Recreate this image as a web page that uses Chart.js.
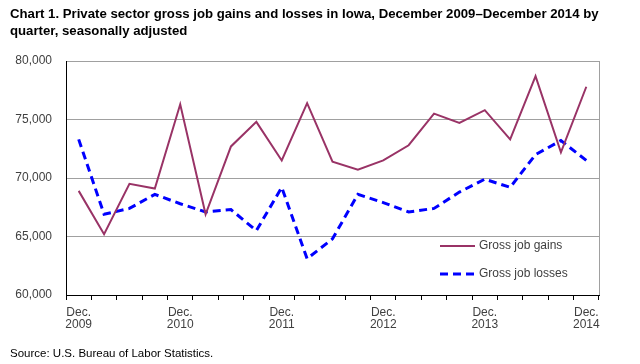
<!DOCTYPE html>
<html>
<head>
<meta charset="utf-8">
<script src="https://cdn.jsdelivr.net/npm/chart.js@4/dist/chart.umd.min.js"></script>
<style>
  body { margin: 0; background: #fff; }
  #wrap { position: relative; width: 640px; height: 364px; }
  #title { position: absolute; left: 10px; top: 5px; width: 620px; font-family: 'Liberation Sans Narrow', 'Arial Narrow', 'Liberation Sans', Arial, sans-serif; font-weight: bold; font-size: 13.2px; line-height: 17px; color: #000; }
  #source { position: absolute; left: 10px; top: 347px; font-family: 'Liberation Sans Narrow', 'Arial Narrow', 'Liberation Sans', Arial, sans-serif; font-size: 11.5px; color: #000; }
  .leg { position: absolute; left: 440px; font-family: 'Liberation Sans', Arial, sans-serif; font-size: 12px; color: #404040; white-space: nowrap; }
  .leg svg { vertical-align: middle; margin-right: 4px; }
</style>
</head>
<body>
<div id="wrap">
  <canvas id="myChart" width="640" height="364"></canvas>
  <div id="title">Chart 1. Private sector gross job gains and losses in Iowa, December 2009–December 2014 by quarter, seasonally adjusted</div>
  <div class="leg" style="top:238px"><svg width="35" height="4"><line x1="0" y1="2" x2="35" y2="2" stroke="#993366" stroke-width="2"/></svg>Gross job gains</div>
  <div class="leg" style="top:266px"><svg width="35" height="4"><line x1="0" y1="2" x2="35" y2="2" stroke="#0000ff" stroke-width="3" stroke-dasharray="8,5"/></svg>Gross job losses</div>
  <div id="source">Source: U.S. Bureau of Labor Statistics.</div>
</div>
<script>
// quarters Dec 2009 .. Dec 2014
var quarters = ['Dec 2009', 'Mar 2010', 'Jun 2010', 'Sep 2010', 'Dec 2010',
                'Mar 2011', 'Jun 2011', 'Sep 2011', 'Dec 2011',
                'Mar 2012', 'Jun 2012', 'Sep 2012', 'Dec 2012',
                'Mar 2013', 'Jun 2013', 'Sep 2013', 'Dec 2013',
                'Mar 2014', 'Jun 2014', 'Sep 2014', 'Dec 2014'];
var gains = [68900, 65200, 69500, 69100, 76300, 66900, 72700, 74800, 71500,
             76400, 71400, 70700, 71500, 72800, 75500, 74700, 75800,
             73300, 78700, 72200, 77800];
var losses = [73300, 66900, 67400, 68600, 67800, 67100, 67300, 65500, 69200,
              63100, 64800, 68600, 67900, 67100, 67400, 68800, 69900,
              69200, 72000, 73200, 71500];
var yTicks = [60000, 65000, 70000, 75000, 80000];

var frame = {
    id: 'frame',
    afterDraw: function(chart) {
        var a = chart.chartArea, ctx = chart.ctx;
        ctx.save();
        ctx.strokeStyle = '#a0a0a0';
        ctx.lineWidth = 1;
        ctx.beginPath();
        ctx.moveTo(Math.round(a.right) + 0.5, a.top);
        ctx.lineTo(Math.round(a.right) + 0.5, a.bottom);
        ctx.stroke();
        ctx.restore();
    }
};

var ctx = document.getElementById('myChart');
var myChart = new Chart(ctx, {
    type: 'line',
    data: {
        labels: quarters,
        datasets: [{
            label: 'Gross job gains',
            data: gains,
            borderColor: '#993366',
            borderWidth: 2,
            pointRadius: 0,
            tension: 0
        }, {
            label: 'Gross job losses',
            data: losses,
            borderColor: '#0000ff',
            borderWidth: 3,
            borderDash: [8, 5],
            pointRadius: 0,
            tension: 0
        }]
    },
    options: {
        responsive: false,
        animation: false,
        layout: { padding: { left: 0, top: 61, right: 41, bottom: 29 } },
        plugins: {
            legend: { display: false },
            tooltip: { enabled: false }
        },
        scales: {
            x: {
                offset: true,
                grid: { offset: true, drawOnChartArea: false, drawTicks: true, tickLength: 5, color: '#000' },
                border: { color: '#000' },
                ticks: {
                    autoSkip: false,
                    maxRotation: 0,
                    padding: 6,
                    color: '#404040',
                    font: { family: "'Liberation Sans', Arial, sans-serif", size: 12, lineHeight: 1.05 },
                    callback: function(v, i) {
                        var q = quarters[i];
                        if (q.indexOf('Dec') === 0) return ['Dec.', q.split(' ')[1]];
                        return '';
                    }
                },
                afterFit: function(scale) { scale.height = 40; }
            },
            y: {
                min: 60000,
                max: 80000,
                afterBuildTicks: function(scale) {
                    scale.ticks = yTicks.map(function(v) { return { value: v }; });
                },
                grid: {
                    drawTicks: false,
                    color: function(c) { return c.tick && c.tick.value === 60000 ? 'rgba(0,0,0,0)' : '#a0a0a0'; }
                },
                border: { color: '#000' },
                ticks: {
                    padding: 14,
                    color: '#404040',
                    font: { family: "'Liberation Sans', Arial, sans-serif", size: 12 },
                    callback: function(v) { return v.toLocaleString('en-US'); }
                },
                afterFit: function(scale) { scale.width = 66; }
            }
        }
    },
    plugins: [frame]
});
</script>
</body>
</html>
